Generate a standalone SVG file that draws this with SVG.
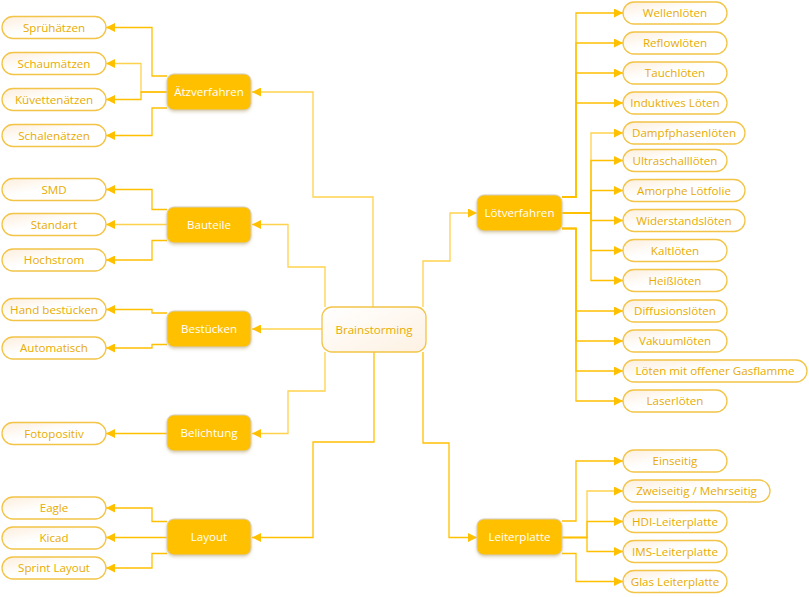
<svg xmlns="http://www.w3.org/2000/svg" width="809" height="597" viewBox="0 0 809 597">
<defs>
<linearGradient id="leafFill" x1="0" y1="0" x2="1" y2="1">
<stop offset="0" stop-color="#FDEEDC"/>
<stop offset="0.45" stop-color="#FFFFFF"/>
<stop offset="1" stop-color="#FFFFFF"/>
</linearGradient>
<linearGradient id="rootFill" x1="0" y1="0" x2="1" y2="1">
<stop offset="0" stop-color="#FFFFFF"/>
<stop offset="1" stop-color="#FDF1E2"/>
</linearGradient>
<filter id="shadow" x="-20%" y="-20%" width="140%" height="150%">
<feDropShadow dx="0" dy="1.5" stdDeviation="1.5" flood-color="#C8B890" flood-opacity="0.6"/>
</filter>
<marker id="arr" viewBox="0 0 9 9" refX="9" refY="4.5" markerWidth="9" markerHeight="9" markerUnits="userSpaceOnUse" orient="auto">
<path d="M0,0 L9,4.5 L0,9 z" fill="#FFC000"/>
</marker>
</defs>
<style>
.c{fill:none;stroke:#FFC000;stroke-width:1.3;marker-end:url(#arr)}
.cl{fill:none;stroke:#FFD24D;stroke-width:1.3;marker-end:url(#arr)}
.leaf rect{fill:url(#leafFill);stroke:#F2C447;stroke-width:1.3}
.leaf text{fill:#E8AC00;font-family:"Open Sans","Noto Sans",sans-serif;font-size:11.6px;text-anchor:middle}
.main rect{fill:#FFC000;stroke:#D3CDBE;stroke-width:1;filter:url(#shadow)}
.main text{fill:#FFFFFF;font-family:"Open Sans","Noto Sans",sans-serif;font-size:11.6px;text-anchor:middle}
.root rect{fill:url(#rootFill);stroke:#F2C447;stroke-width:1.3}
.root text{fill:#E8AC00;font-family:"Open Sans","Noto Sans",sans-serif;font-size:11.6px;text-anchor:middle}
</style>
<rect width="809" height="597" fill="#FFFFFF"/>

<g id="connectors">
<path class="cl" d="M373,307 V197 H313 V92 H252"/>
<path class="cl" d="M325,307 V267 H288 V224.5 H252"/>
<path class="cl" d="M322,329 H252"/>
<path class="cl" d="M325,352 V391 H288 V433.5 H252"/>
<path class="c" d="M374,352 V442 H313 V537.5 H252"/>
<path class="cl" d="M423,307 V261 H450 V213 H477"/>
<path class="c" d="M423,352 V443 H449 V537.5 H477"/>

<path class="c" d="M167,76 H152 V27.5 H106"/>
<path class="cl" d="M167,92 H141 V63.5 H106"/>
<path class="c" d="M167,92 H141 V99.5 H106"/>
<path class="c" d="M167,108 H152 V135.5 H106"/>

<path class="c" d="M167,209.5 H152 V189.5 H106"/>
<path class="cl" d="M167,224.5 H106"/>
<path class="c" d="M167,240.5 H152 V260 H106"/>

<path class="c" d="M167,313 H152 V309.5 H106"/>
<path class="c" d="M167,344.5 H152 V348 H106"/>

<path class="c" d="M167,433.5 H106"/>

<path class="c" d="M167,521.5 H152 V508 H106"/>
<path class="c" d="M167,537.5 H106"/>
<path class="c" d="M167,553.5 H152 V568 H106"/>

<path class="c" d="M562,197 H576 V13 H623"/>
<path class="c" d="M562,197 H576 V43 H623"/>
<path class="c" d="M562,197 H576 V73 H623"/>
<path class="c" d="M562,197 H576 V103 H623"/>

<path class="cl" d="M562,213 H591 V133 H623"/>
<path class="c" d="M562,213 H591 V160.5 H623"/>
<path class="c" d="M562,213 H591 V190.5 H623"/>
<path class="c" d="M562,213 H591 V220.5 H623"/>
<path class="c" d="M562,213 H591 V250.5 H623"/>
<path class="c" d="M562,213 H591 V280.5 H623"/>

<path class="c" d="M562,228.5 H576 V311 H623"/>
<path class="c" d="M562,228.5 H576 V341 H623"/>
<path class="c" d="M562,228.5 H576 V371 H623"/>
<path class="c" d="M562,228.5 H576 V401 H623"/>

<path class="c" d="M562,521 H576 V461 H623"/>
<path class="cl" d="M562,537.5 H587 V491 H623"/>
<path class="c" d="M562,537.5 H587 V521.5 H623"/>
<path class="c" d="M562,537.5 H587 V551.5 H623"/>
<path class="c" d="M562,553.5 H576 V581.5 H623"/>
</g>

<g id="brainstorming" class="root"><rect x="322" y="307" width="104" height="45" rx="10"/><text x="374" y="333.5">Brainstorming</text></g>

<g id="aetzverfahren" class="main"><rect x="167" y="74" width="84" height="36" rx="7"/><text x="209" y="96">Ätzverfahren</text></g>
<g id="bauteile" class="main"><rect x="167" y="207" width="84" height="36" rx="7"/><text x="209" y="229">Bauteile</text></g>
<g id="bestuecken" class="main"><rect x="167" y="311" width="84" height="36" rx="7"/><text x="209" y="333">Bestücken</text></g>
<g id="belichtung" class="main"><rect x="167" y="415" width="84" height="36" rx="7"/><text x="209" y="437">Belichtung</text></g>
<g id="layout" class="main"><rect x="167" y="519" width="84" height="36" rx="7"/><text x="209" y="541">Layout</text></g>
<g id="loetverfahren" class="main"><rect x="477" y="195" width="85" height="36" rx="7"/><text x="519.5" y="217">Lötverfahren</text></g>
<g id="leiterplatte" class="main"><rect x="477" y="519" width="85" height="36" rx="7"/><text x="519.5" y="541">Leiterplatte</text></g>

<g id="spruehaetzen" class="leaf"><rect x="2" y="16.5" width="104" height="22" rx="11"/><text x="54" y="31.5">Sprühätzen</text></g>
<g id="schaumaetzen" class="leaf"><rect x="2" y="52.5" width="104" height="22" rx="11"/><text x="54" y="67.5">Schaumätzen</text></g>
<g id="kuevettenaetzen" class="leaf"><rect x="2" y="88.5" width="104" height="22" rx="11"/><text x="54" y="103.5">Küvettenätzen</text></g>
<g id="schalenaetzen" class="leaf"><rect x="2" y="124.5" width="104" height="22" rx="11"/><text x="54" y="139.5">Schalenätzen</text></g>

<g id="smd" class="leaf"><rect x="2" y="178.5" width="104" height="22" rx="11"/><text x="54" y="193.5">SMD</text></g>
<g id="standart" class="leaf"><rect x="2" y="213.5" width="104" height="22" rx="11"/><text x="54" y="228.5">Standart</text></g>
<g id="hochstrom" class="leaf"><rect x="2" y="249" width="104" height="22" rx="11"/><text x="54" y="264">Hochstrom</text></g>

<g id="hand-bestuecken" class="leaf"><rect x="2" y="298.5" width="104" height="22" rx="11"/><text x="54" y="313.5">Hand bestücken</text></g>
<g id="automatisch" class="leaf"><rect x="2" y="337" width="104" height="22" rx="11"/><text x="54" y="352">Automatisch</text></g>

<g id="fotopositiv" class="leaf"><rect x="2" y="422.5" width="104" height="22" rx="11"/><text x="54" y="437.5">Fotopositiv</text></g>

<g id="eagle" class="leaf"><rect x="2" y="497" width="104" height="22" rx="11"/><text x="54" y="512">Eagle</text></g>
<g id="kicad" class="leaf"><rect x="2" y="527" width="104" height="22" rx="11"/><text x="54" y="542">Kicad</text></g>
<g id="sprint-layout" class="leaf"><rect x="2" y="557" width="104" height="22" rx="11"/><text x="54" y="572">Sprint Layout</text></g>

<g id="wellenloeten" class="leaf"><rect x="623" y="2" width="104" height="22" rx="11"/><text x="675" y="17">Wellenlöten</text></g>
<g id="reflowloeten" class="leaf"><rect x="623" y="32" width="104" height="22" rx="11"/><text x="675" y="47">Reflowlöten</text></g>
<g id="tauchloeten" class="leaf"><rect x="623" y="62" width="104" height="22" rx="11"/><text x="675" y="77">Tauchlöten</text></g>
<g id="induktives-loeten" class="leaf"><rect x="623" y="92" width="104" height="22" rx="11"/><text x="675" y="107">Induktives Löten</text></g>
<g id="dampfphasenloeten" class="leaf"><rect x="623" y="122" width="122" height="22" rx="11"/><text x="684" y="137">Dampfphasenlöten</text></g>
<g id="ultraschallloeten" class="leaf"><rect x="623" y="149.5" width="104" height="22" rx="11"/><text x="675" y="164.5">Ultraschalllöten</text></g>
<g id="amorphe-loetfolie" class="leaf"><rect x="623" y="179.5" width="122" height="22" rx="11"/><text x="684" y="194.5">Amorphe Lötfolie</text></g>
<g id="widerstandsloeten" class="leaf"><rect x="623" y="209.5" width="122" height="22" rx="11"/><text x="684" y="224.5">Widerstandslöten</text></g>
<g id="kaltloeten" class="leaf"><rect x="623" y="239.5" width="104" height="22" rx="11"/><text x="675" y="254.5">Kaltlöten</text></g>
<g id="heissloeten" class="leaf"><rect x="623" y="269.5" width="104" height="22" rx="11"/><text x="675" y="284.5">Heißlöten</text></g>
<g id="diffusionsloeten" class="leaf"><rect x="623" y="300" width="104" height="22" rx="11"/><text x="675" y="315">Diffusionslöten</text></g>
<g id="vakuumloeten" class="leaf"><rect x="623" y="330" width="104" height="22" rx="11"/><text x="675" y="345">Vakuumlöten</text></g>
<g id="gasflamme" class="leaf"><rect x="623" y="360" width="184" height="22" rx="11"/><text x="715" y="375">Löten mit offener Gasflamme</text></g>
<g id="laserloeten" class="leaf"><rect x="623" y="390" width="104" height="22" rx="11"/><text x="675" y="405">Laserlöten</text></g>

<g id="einseitig" class="leaf"><rect x="623" y="450" width="104" height="22" rx="11"/><text x="675" y="465">Einseitig</text></g>
<g id="zweiseitig" class="leaf"><rect x="623" y="480" width="147" height="22" rx="11"/><text x="696.5" y="495">Zweiseitig / Mehrseitig</text></g>
<g id="hdi-leiterplatte" class="leaf"><rect x="623" y="510.5" width="104" height="22" rx="11"/><text x="675" y="525.5">HDI-Leiterplatte</text></g>
<g id="ims-leiterplatte" class="leaf"><rect x="623" y="540.5" width="104" height="22" rx="11"/><text x="675" y="555.5">IMS-Leiterplatte</text></g>
<g id="glas-leiterplatte" class="leaf"><rect x="623" y="570.5" width="104" height="22" rx="11"/><text x="675" y="585.5">Glas Leiterplatte</text></g>
</svg>
